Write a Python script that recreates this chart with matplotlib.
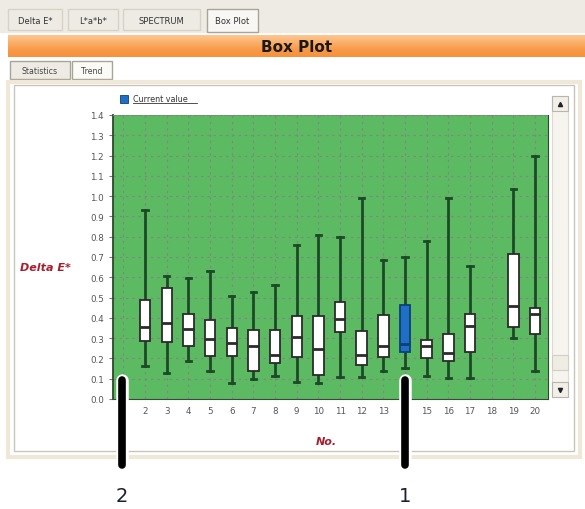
import numpy as np
import matplotlib
matplotlib.use("Agg")
import matplotlib.pyplot as plt
from matplotlib.patches import Rectangle

W, H = 585, 510

# box statistics per sample number (nan = no data)
sample_no = list(range(1, 21))
whisker_low = [np.nan, 0.164, 0.127, 0.186, 0.137, 0.077, 0.099, 0.115, 0.082, 0.077,
               0.107, 0.107, 0.137, 0.153, 0.112, 0.102, 0.102, np.nan, 0.300, 0.137]
box_low = [np.nan, 0.288, 0.280, 0.263, 0.214, 0.210, 0.140, 0.178, 0.209, 0.118,
           0.329, 0.169, 0.206, 0.230, 0.200, 0.186, 0.230, np.nan, 0.357, 0.320]
median = [np.nan, 0.354, 0.373, 0.345, 0.296, 0.276, 0.260, 0.217, 0.304, 0.247,
          0.393, 0.217, 0.263, 0.270, 0.260, 0.225, 0.362, np.nan, 0.460, 0.419]
box_high = [np.nan, 0.488, 0.546, 0.419, 0.391, 0.350, 0.342, 0.342, 0.408, 0.408,
            0.477, 0.337, 0.416, 0.464, 0.293, 0.320, 0.419, np.nan, 0.715, 0.447]
whisker_high = [np.nan, 0.930, 0.605, 0.597, 0.630, 0.510, 0.526, 0.560, 0.757, 0.808,
                0.800, 0.990, 0.686, 0.700, 0.777, 0.990, 0.658, np.nan, 1.034, 1.200]
current_no = 14

y_ticks = [round(0.1 * i, 1) for i in range(15)]
x_tick_labels = [""] + [str(n) for n in range(2, 21)]
tabs = ["Delta E*", "L*a*b*", "SPECTRUM", "Box Plot"]
sub_tabs = ["Statistics", "Trend"]

fig = plt.figure(figsize=(W / 100, H / 100), dpi=100)
fig.patch.set_facecolor("white")


def px_axes(x, y, w, h, **kw):
    return fig.add_axes([x / W, 1 - (y + h) / H, w / W, h / H], **kw)


# ---- window chrome drawn in pixel coordinates
ui = px_axes(0, 0, W, H)
ui.set_xlim(0, W)
ui.set_ylim(H, 0)
ui.axis("off")

ui.add_patch(Rectangle((0, 0), W, 33, color="#eeebe4", zorder=0))
tab_x = [(8, 62), (68, 118), (123, 200), (207, 258)]
for (x0, x1), name in zip(tab_x, tabs):
    sel = name == "Box Plot"
    ui.add_patch(Rectangle((x0, 10), x1 - x0, 23 if sel else 21,
                           facecolor="#f8f7f3" if sel else "#eeebe4",
                           edgecolor="#a8a49a" if sel else "#d6d2c8", lw=1, zorder=1))
    ui.text((x0 + x1) / 2, 21, name, ha="center", va="center", fontsize=6.0,
            color="#333333", zorder=2)

# orange title bar with a vertical gradient
grad = np.linspace(0, 1, 64).reshape(-1, 1)
bar_cmap = matplotlib.colors.LinearSegmentedColormap.from_list(
    "bar", ["#fdc790", "#fbb06c", "#f89a48", "#f7903b"])
ui.imshow(grad, extent=(8, W, 58, 36), cmap=bar_cmap, aspect="auto", zorder=1)
ui.text(297, 47.5, "Box Plot", ha="center", va="center", fontsize=11, fontweight="bold",
        color="#1a1a1a", zorder=2)

sub_x = [(10, 70), (72, 112)]
for (x0, x1), name in zip(sub_x, sub_tabs):
    sel = name == "Trend"
    ui.add_patch(Rectangle((x0, 62), x1 - x0, 18, facecolor="#fbfaf7" if sel else "#eeebe4",
                           edgecolor="#a8a49a", lw=1, zorder=1))
    ui.text((x0 + x1) / 2, 71, name, ha="center", va="center", fontsize=5.6,
            color="#444444", zorder=2)

# panel frame
ui.add_patch(Rectangle((8, 83), 572, 375, facecolor="none", edgecolor="#efe8d8", lw=3, zorder=1))
ui.add_patch(Rectangle((14, 86), 560, 366, facecolor="white", edgecolor="#c9c5bb", lw=1, zorder=1))

# scrollbar
ui.add_patch(Rectangle((552, 97), 16, 301, facecolor="#f6f4ee", edgecolor="#dedad0", lw=0.8, zorder=2))
for y0, mark in [(97, "^"), (383, "v")]:
    ui.add_patch(Rectangle((552, y0), 16, 15, facecolor="#f1efe8", edgecolor="#b9b5aa", lw=0.8, zorder=3))
    ui.plot(560, y0 + 7.5, marker=mark, ms=3, color="#222222", zorder=4)
ui.add_patch(Rectangle((552, 356), 16, 15, facecolor="#efece4", edgecolor="#d2cec4", lw=0.8, zorder=3))

# legend and axis titles
ui.add_patch(Rectangle((120, 96), 8, 8, facecolor="#1f6fc5", edgecolor="#0e3f7c", lw=0.6, zorder=3))
ui.text(133, 100, "Current value", ha="left", va="center", fontsize=5.8, color="#333333", zorder=3)
ui.plot([133, 197], [104, 104], color="#333333", lw=0.6, zorder=3)
ui.text(45, 268, "Delta E*", ha="center", va="center", fontsize=8, fontweight="bold",
        fontstyle="italic", color="#a61f2e", zorder=3)
ui.text(326, 442, "No.", ha="center", va="center", fontsize=8, fontweight="bold",
        fontstyle="italic", color="#a61f2e", zorder=3)

# ---- box plot area
ax = px_axes(113, 116, 435, 284)
ax.set_facecolor("#5cbb62")
ax.set_xlim(0.52, 20.6)
ax.set_ylim(0, 1.4)

stats = []
for i, n in enumerate(sample_no):
    if np.isnan(median[i]):
        continue
    stats.append(dict(med=median[i], q1=box_low[i], q3=box_high[i],
                      whislo=whisker_low[i], whishi=whisker_high[i], label=str(n), fliers=[]))
positions = [n for i, n in enumerate(sample_no) if not np.isnan(median[i])]

bp = ax.bxp(stats, positions=positions, widths=0.48, patch_artist=True, showfliers=False,
            boxprops=dict(facecolor="white", edgecolor="#2b2b2b", lw=1.3),
            medianprops=dict(color="#2b2b2b", lw=2),
            whiskerprops=dict(color="#1d4a26", lw=2),
            capprops=dict(color="#1d4a26", lw=2), manage_ticks=False)
for box, n in zip(bp["boxes"], positions):
    box.set_zorder(3)
    if n == current_no:
        box.set_facecolor("#1f6fc5")
        box.set_edgecolor("#0e3f7c")
for med in bp["medians"]:
    med.set_zorder(4)
bp["medians"][positions.index(current_no)].set_color("#0e3f7c")

ax.set_yticks(y_ticks)
ax.set_yticklabels([f"{v:.1f}" for v in y_ticks])
ax.set_xticks(sample_no)
ax.set_xticklabels(x_tick_labels)
ax.tick_params(axis="both", labelsize=6.3, labelcolor="#555555", color="#777777", length=3)
ax.tick_params(axis="x", length=0, pad=5)
ax.grid(True, which="major", color="#7c8c7c", ls=(0, (2, 3)), lw=0.9)
ax.set_axisbelow(True)
ax.spines["left"].set_color("#2a4a2a")
ax.spines["left"].set_linewidth(1.3)
ax.spines["bottom"].set_color("#3a4a3a")
ax.spines["bottom"].set_linestyle((0, (2, 1)))
ax.spines["top"].set_color("#7c8c7c")
ax.spines["top"].set_linestyle((0, (2, 2)))
ax.spines["right"].set_color("#2a4a2a")

# ---- callout pointers on top of everything
top = px_axes(0, 0, W, H, zorder=10)
top.set_xlim(0, W)
top.set_ylim(H, 0)
top.axis("off")
for x, y0, label in [(122, 381, "2"), (405, 381, "1")]:
    top.plot([x, x], [y0, 466], color="white", lw=9, solid_capstyle="round")
    top.plot([x, x], [y0, 466], color="black", lw=5.5, solid_capstyle="round")
    top.text(x, 497, label, ha="center", va="center", fontsize=14, color="#1b1f33")

fig.savefig("out.png", dpi=100)
